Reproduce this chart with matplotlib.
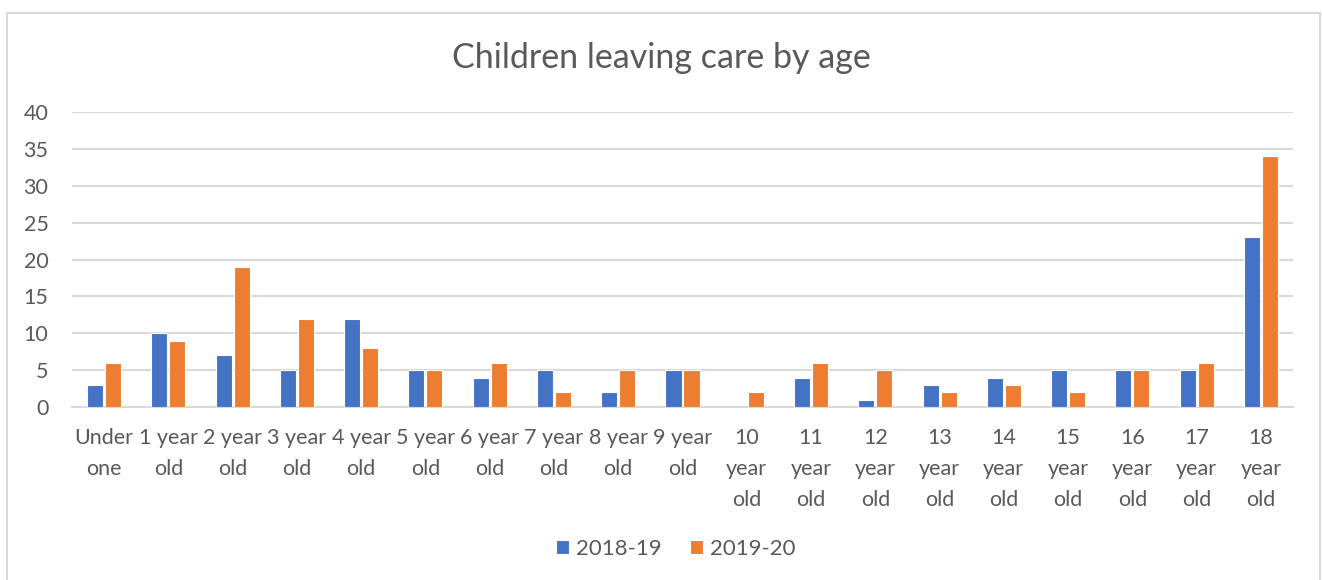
import numpy as np
import matplotlib.pyplot as plt
from matplotlib.patches import Rectangle

# Children leaving care, counts by age group
ages = ["Under\none", "1 year\nold", "2 year\nold", "3 year\nold", "4 year\nold",
        "5 year\nold", "6 year\nold", "7 year\nold", "8 year\nold", "9 year\nold",
        "10\nyear\nold", "11\nyear\nold", "12\nyear\nold", "13\nyear\nold",
        "14\nyear\nold", "15\nyear\nold", "16\nyear\nold", "17\nyear\nold",
        "18\nyear\nold"]
leavers_2018_19 = [3, 10, 7, 5, 12, 5, 4, 5, 2, 5, 0, 4, 1, 3, 4, 5, 5, 5, 23]
leavers_2019_20 = [6, 9, 19, 12, 8, 5, 6, 2, 5, 5, 2, 6, 5, 2, 3, 2, 5, 6, 34]

plt.rcParams['font.family'] = ['Lato', 'DejaVu Sans']
text_col = '#595959'

fig = plt.figure(figsize=(13.22, 5.8), dpi=100)
# light chart border
fig.patches.append(Rectangle((7 / 1322, -0.05), 1313 / 1322, 1.05 - 13 / 580,
                             transform=fig.transFigure, fill=False,
                             edgecolor='#d9d9d9', linewidth=1.5))

ax = fig.add_axes([72 / 1322, 1 - 407 / 580, 1221 / 1322, 295 / 580])
x = np.arange(len(ages))
w = 0.25
ax.bar(x - 0.14, leavers_2018_19, w, color='#4472c4', edgecolor='white',
       linewidth=0.8, label='2018-19', zorder=3)
ax.bar(x + 0.14, leavers_2019_20, w, color='#ed7d31', edgecolor='white',
       linewidth=0.8, label='2019-20', zorder=3)

ax.set_xlim(-0.5, len(ages) - 0.5)
ax.set_ylim(0, 40)
ax.set_yticks(range(0, 41, 5))
ax.yaxis.grid(True, color='#d9d9d9', linewidth=1.5, zorder=0)
for s in ['top', 'right', 'left']:
    ax.spines[s].set_visible(False)
ax.spines['bottom'].set_color('#d9d9d9')
ax.spines['bottom'].set_linewidth(1.5)
ax.tick_params(axis='both', length=0, labelsize=15.5, colors=text_col)
ax.tick_params(axis='y', pad=17)
ax.tick_params(axis='x', pad=15)
ax.set_xticks(x)
ax.set_xticklabels(ages, linespacing=1.7, va='top')

fig.text(0.5, 1 - 58 / 580, 'Children leaving care by age', ha='center',
         va='center', fontsize=24.5, color=text_col)

fig.legend(loc='center', bbox_to_anchor=(0.511, 1 - 549 / 580), ncol=2,
           frameon=False, fontsize=16, labelcolor=text_col, handlelength=0.6,
           handleheight=0.6, columnspacing=1.3, handletextpad=0.3)

fig.savefig('out.png', dpi=100)
